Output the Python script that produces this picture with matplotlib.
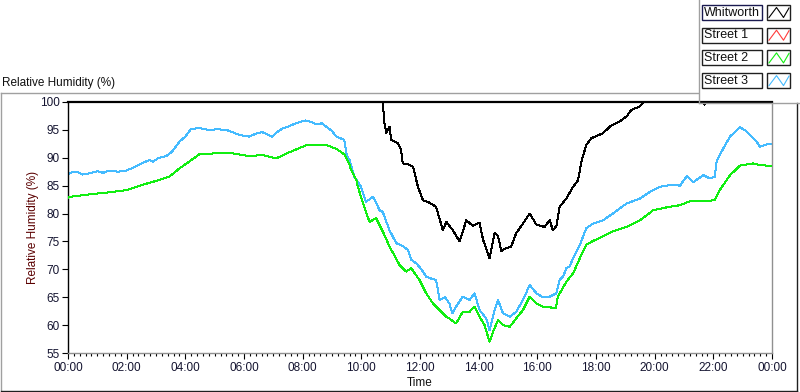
import matplotlib
matplotlib.use("Agg")
import matplotlib.pyplot as plt
from matplotlib.lines import Line2D
from matplotlib.patches import Rectangle

# ---------------- data (hours since 00:00, relative humidity %) ----------------
t_whitworth = [0.0, 10.73, 10.79, 10.85, 10.96, 11.02, 11.24, 11.35, 11.41, 11.6,
               11.76, 11.93, 12.1, 12.3, 12.55, 12.78, 12.9, 13.12, 13.35, 13.58,
               13.8, 14.03, 14.15, 14.37, 14.54, 14.66, 14.77, 14.94, 15.11, 15.28,
               15.51, 15.74, 15.97, 16.25, 16.42, 16.53, 16.65, 16.76, 16.99, 17.22,
               17.39, 17.5, 17.67, 17.84, 18.24, 18.47, 18.81, 19.04, 19.21, 19.5,
               19.61, 21.65, 21.7, 21.75, 24.0]
rh_whitworth = [100.0, 100.0, 96.2, 94.4, 95.6, 93.2, 92.6, 91.5, 89.0, 88.8,
                88.4, 84.8, 82.4, 82.0, 81.2, 77.0, 78.5, 77.0, 75.0, 78.8,
                77.8, 78.4, 75.3, 72.0, 76.5, 76.0, 73.3, 73.8, 74.1, 76.5,
                78.2, 80.0, 78.0, 77.6, 78.8, 77.0, 77.8, 81.2, 82.7, 84.8,
                86.0, 89.3, 92.3, 93.5, 94.4, 95.6, 96.5, 97.4, 98.6, 99.2,
                100.0, 100.0, 99.5, 100.0, 100.0]

t_street3 = [0.0, 0.05, 0.3, 0.5, 0.72, 1.0, 1.2, 1.4, 1.7, 1.98, 2.3, 2.6, 2.77, 2.9,
             3.1, 3.35, 3.55, 3.8, 4.0, 4.2, 4.5, 4.8, 5.1, 5.4, 5.6, 5.84, 6.18, 6.4,
             6.62, 6.8, 6.96, 7.1, 7.3, 7.55, 7.78, 8.1, 8.3, 8.47, 8.65, 8.8, 9.0, 9.15,
             9.42, 9.5, 9.6, 9.76, 9.99, 10.16, 10.39, 10.5, 10.62, 10.73, 10.96, 11.19,
             11.4, 11.59, 11.7, 11.87, 12.05, 12.21, 12.4, 12.55, 12.67, 12.85, 13.0,
             13.1, 13.23, 13.46, 13.69, 13.86, 14.03, 14.26, 14.37, 14.54, 14.66, 14.83,
             15.06, 15.28, 15.51, 15.74, 15.97, 16.19, 16.42, 16.65, 16.76, 16.88, 16.99,
             17.1, 17.22, 17.45, 17.67, 17.9, 18.24, 18.58, 19.04, 19.5, 19.84, 20.18,
             20.4, 20.63, 20.86, 21.1, 21.31, 21.5, 21.65, 21.88, 22.05, 22.11, 22.34,
             22.57, 22.91, 23.14, 23.47, 23.59, 23.82, 24.0]
rh_street3 = [87.0, 87.3, 87.5, 87.0, 87.2, 87.6, 87.3, 87.7, 87.5, 87.7, 88.4, 89.2, 89.6, 89.3,
              90.0, 90.3, 91.1, 92.9, 93.8, 95.2, 95.3, 95.0, 95.1, 95.0, 94.6, 94.1, 93.8, 94.3,
              94.6, 94.2, 93.8, 94.5, 95.2, 95.7, 96.2, 96.7, 96.4, 96.0, 96.2, 95.6, 94.8, 93.8,
              93.2, 90.5, 89.6, 86.6, 84.8, 82.1, 83.0, 82.0, 80.6, 80.3, 77.0, 74.7,
              74.2, 73.5, 71.7, 71.1, 70.0, 68.7, 68.3, 68.1, 64.5, 65.0, 63.9,
              62.1, 63.3, 65.1, 64.5, 65.7, 62.7, 61.2, 59.1, 62.7, 64.5, 62.1,
              61.5, 62.4, 64.5, 67.2, 65.7, 65.0, 65.1, 65.7, 68.1, 68.7, 70.2,
              70.5, 72.0, 74.4, 77.4, 78.2, 78.8, 80.0, 81.8, 82.7, 83.9, 84.8,
              85.0, 85.2, 85.0, 86.7, 85.6, 86.3, 86.9, 86.3, 86.6, 89.3, 91.7,
              93.8, 95.5, 94.7, 92.9, 92.0, 92.4, 92.4]

t_street2 = [0.0, 0.05, 0.82, 1.4, 2.0, 2.5, 3.1, 3.45, 3.8, 4.13, 4.47, 5.0, 5.5, 5.84,
             6.18, 6.62, 7.1, 7.55, 8.1, 8.8, 9.15, 9.42, 9.6, 9.65, 9.83, 9.88, 10.1,
             10.28, 10.5, 10.73, 10.96, 11.3, 11.53, 11.7, 11.98, 12.21, 12.44, 12.67,
             12.9, 13.0, 13.23, 13.46, 13.69, 13.86, 14.03, 14.2, 14.32, 14.37, 14.49,
             14.66, 14.83, 15.06, 15.28, 15.51, 15.74, 15.97, 16.19, 16.42, 16.63, 16.7,
             16.99, 17.22, 17.45, 17.67, 17.9, 18.24, 18.58, 19.04, 19.5, 19.95, 20.4,
             20.86, 21.2, 21.65, 22.05, 22.22, 22.57, 22.91, 23.36, 23.59, 24.0]
rh_street2 = [82.8, 83.0, 83.5, 83.8, 84.2, 85.1, 86.0, 86.6, 88.1, 89.3, 90.6, 90.8, 90.9, 90.6,
              90.3, 90.5, 89.9, 91.0, 92.2, 92.3, 91.6, 90.6, 88.7, 87.8, 86.0, 84.8, 81.2,
              78.5, 79.2, 76.8, 74.1, 70.8, 69.6, 70.2, 68.1, 65.7, 63.9, 62.7,
              61.5, 61.2, 60.3, 62.4, 62.4, 63.3, 61.5, 60.0, 57.9, 57.0, 58.8,
              60.9, 60.0, 59.7, 61.2, 62.7, 65.1, 63.9, 63.3, 63.2, 63.0, 65.1,
              67.8, 69.3, 72.0, 74.4, 75.1, 75.9, 76.8, 77.6, 78.8, 80.6, 81.1,
              81.5, 82.2, 82.2, 82.4, 84.2, 86.9, 88.6, 89.0, 88.7, 88.5]

series_names = ["Whitworth", "Street 1", "Street 2", "Street 3"]
series_colors = ["#000000", "#ff3c3c", "#11ee11", "#44bbff"]

x_ticks = [0, 2, 4, 6, 8, 10, 12, 14, 16, 18, 20, 22, 24]
x_tick_labels = ["00:00", "02:00", "04:00", "06:00", "08:00", "10:00", "12:00",
                 "14:00", "16:00", "18:00", "20:00", "22:00", "00:00"]
y_ticks = [55, 60, 65, 70, 75, 80, 85, 90, 95, 100]

# ---------------- figure ----------------
W, H = 800, 392
plt.rcParams['font.family'] = ['Liberation Sans', 'DejaVu Sans']
fig = plt.figure(figsize=(W / 100, H / 100), dpi=100)
fig.patch.set_facecolor("white")


def fx(x):
    return x / W


def fy(y):
    return 1 - y / H


# outer panel frame
gray = "#a0a0a0"
fig.add_artist(Line2D([fx(0.5), fx(698)], [fy(92.5), fy(92.5)], color=gray, lw=1))
fig.add_artist(Line2D([fx(0.5), fx(0.5)], [fy(92.5), fy(390)], color=gray, lw=1))
fig.add_artist(Line2D([fx(0.5), fx(797)], [fy(390.5), fy(390.5)], color="#202020", lw=1))
fig.add_artist(Line2D([fx(796.5), fx(796.5)], [fy(103), fy(390.5)], color="#202020", lw=1))
# legend panel borders
fig.add_artist(Line2D([fx(698.5), fx(698.5)], [fy(0), fy(103)], color=gray, lw=1))
fig.add_artist(Line2D([fx(698.5), fx(800)], [fy(103), fy(103)], color=gray, lw=1))

# title label
fig.text(fx(2), fy(83), "Relative Humidity (%)", fontsize=8.5, color="#101010",
         ha="left", va="center")

# ---------------- axes ----------------
ax = fig.add_axes([fx(68), fy(353), fx(772) - fx(68), fy(102) - fy(353)])
ax.set_xlim(0, 24)
ax.set_ylim(55, 100)

ax.plot(t_street3, rh_street3, color=series_colors[3], lw=0.72, zorder=2,
        antialiased=False)
ax.plot(t_street2, rh_street2, color=series_colors[2], lw=0.72, zorder=3,
        antialiased=False)
ax.plot(t_whitworth, rh_whitworth, color=series_colors[0], lw=0.72, zorder=4,
        clip_on=False, antialiased=False)

ax.spines["left"].set_color("black")
ax.spines["left"].set_linewidth(1.0)
ax.spines["top"].set_color("black")
ax.spines["top"].set_linewidth(1.6)
for s in ["right", "bottom"]:
    ax.spines[s].set_color("#909090")
    ax.spines[s].set_linewidth(1.0)

ax.set_xticks(x_ticks)
ax.set_xticklabels(x_tick_labels)
ax.set_xticks([i * 0.2 for i in range(121)], minor=True)
ax.set_yticks(y_ticks)
ax.set_yticklabels([str(v) for v in y_ticks])
ax.tick_params(axis="both", which="major", direction="out", length=4.3, width=0.8,
               color="black", labelsize=8.5, labelcolor="#141430")
ax.tick_params(axis="x", which="major", pad=2.5)
ax.tick_params(axis="y", which="major", pad=1.5)
ax.tick_params(axis="x", which="minor", direction="out", length=2.5, width=0.8,
               color="black")
ax.tick_params(axis="y", which="minor", left=False)

ax.set_xlabel("Time", fontsize=8.5, color="#101010", labelpad=1.5)
fig.text(fx(33), fy(227), "Relative Humidity (%)", rotation=90, fontsize=8.5,
         color="#5a0000", ha="center", va="center")

# ---------------- legend (LabVIEW-style plot legend) ----------------
for i, (name, col) in enumerate(zip(series_names, series_colors)):
    top = 5 + i * 22.7
    bot = top + 15
    edge = "#1a1a50" if i == 0 else "#202020"
    fig.add_artist(Rectangle((fx(702), fy(bot)), fx(762) - fx(702), fy(top) - fy(bot),
                             facecolor="white", edgecolor=edge, lw=1.0))
    fig.text(fx(704), fy((top + bot) / 2), name, fontsize=9, color="#101010",
             ha="left", va="center")
    fig.add_artist(Rectangle((fx(767), fy(bot)), fx(790) - fx(767), fy(top) - fy(bot),
                             facecolor="white", edgecolor="#202020", lw=1.0))
    fig.add_artist(Line2D([fx(769), fx(776.5), fx(783.5), fx(789)],
                          [fy(bot - 2.5), fy(top + 2.5), fy(bot - 2.5), fy(top + 3)],
                          color=col, lw=0.8))

fig.savefig("out.png", dpi=100, facecolor="white")
